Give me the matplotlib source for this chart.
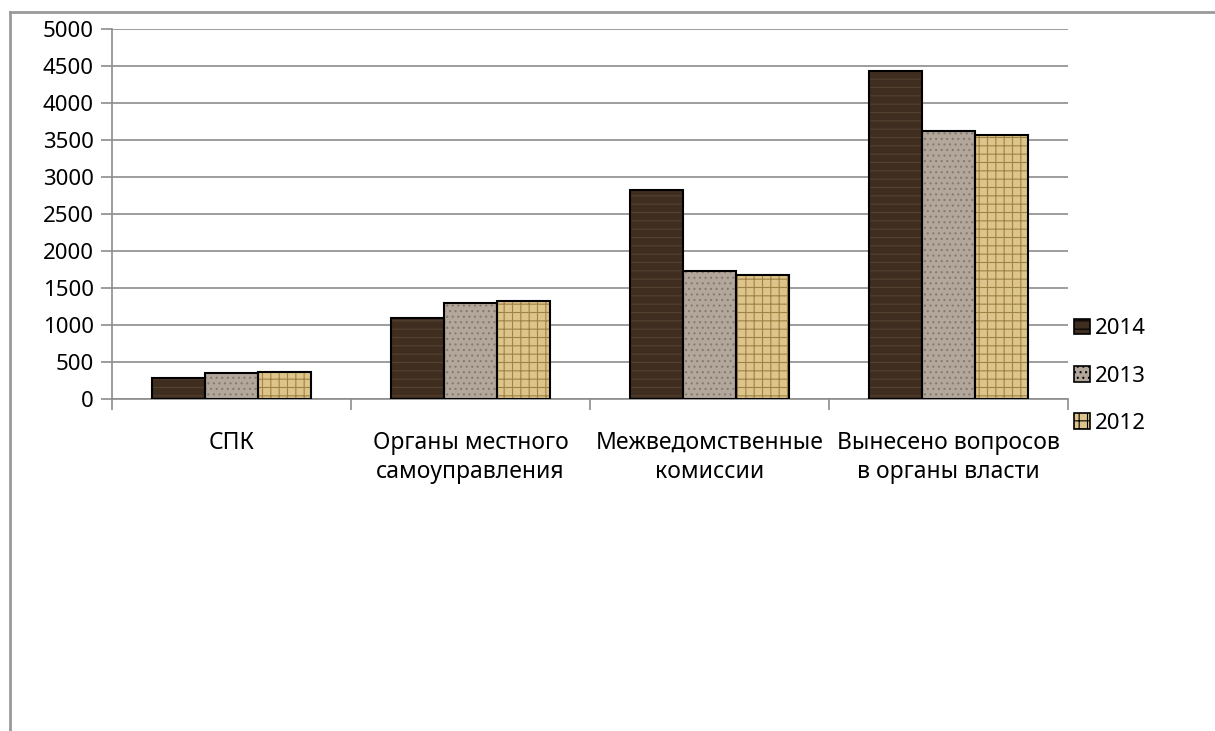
import numpy as np
import matplotlib
matplotlib.use("Agg")
import matplotlib.pyplot as plt
from matplotlib.patches import Patch
from matplotlib.lines import Line2D

plt.rcParams["font.family"] = ["Noto Sans", "DejaVu Sans"]
plt.rcParams["hatch.linewidth"] = 0.8

categories = ["СПК", "Органы местного\nсамоуправления",
              "Межведомственные\nкомиссии", "Вынесено вопросов\nв органы власти"]
years = ["2014", "2013", "2012"]
v2014 = [290, 1095, 2820, 4430]
v2013 = [350, 1295, 1725, 3615]
v2012 = [362, 1325, 1680, 3570]
series = [v2014, v2013, v2012]

face = ["#3f2d20", "#b3a79c", "#dcc48a"]
hatch_col = ["#56412f", "#857a6f", "#a08244"]
hatches = ["--", "...", "++"]

fig = plt.figure(figsize=(12.15, 7.31), dpi=100)
W, H = 1215, 731
ax = fig.add_axes([112 / W, (H - 399) / H, (1068 - 112) / W, (399 - 29) / H])

x = np.arange(len(categories))
bw = 0.667 / 3
for i, vals in enumerate(series):
    pos = x + (i - 1) * bw
    # textured fill, then a black outline on top
    ax.bar(pos, vals, bw, color=face[i], edgecolor=hatch_col[i],
           hatch=hatches[i], linewidth=0, zorder=3)
    ax.bar(pos, vals, bw, facecolor="none", edgecolor="black",
           linewidth=1.5, zorder=4)

ax.set_xlim(-0.5, len(categories) - 0.5)
ax.set_ylim(0, 5000)
ax.set_yticks(np.arange(0, 5001, 500))
ax.yaxis.grid(True, color="#8c8c8c", linewidth=1.2, zorder=0)
ax.set_axisbelow(True)
for s in ["top", "right"]:
    ax.spines[s].set_visible(False)
for s in ["left", "bottom"]:
    ax.spines[s].set_color("#8c8c8c")
    ax.spines[s].set_linewidth(1.2)
ax.tick_params(axis="y", length=8, color="#8c8c8c", width=1.2,
               labelsize=16, pad=5)
ax.set_xticks(np.arange(-0.5, len(categories)), minor=False)
ax.set_xticklabels([])
ax.tick_params(axis="x", length=8, color="#8c8c8c", width=1.2)
for i, c in enumerate(categories):
    ax.text(x[i], -430, c, ha="center", va="top", fontsize=16.5,
            linespacing=1.3)

handles = [Patch(facecolor=face[i], edgecolor="black", hatch=hatches[i],
                 linewidth=1.2) for i in range(3)]
leg = fig.legend(handles, years, loc="center left",
                 bbox_to_anchor=(1054 / W, 1 - 376 / H), frameon=False,
                 fontsize=16, handlelength=0.7, handleheight=0.7,
                 handletextpad=0.25, labelspacing=1.18)

# outer chart frame (partially visible)
fig.add_artist(Line2D([10 / W, 10 / W], [0, 1 - 12 / H], color="#9a9a9a",
                      linewidth=2, transform=fig.transFigure))
fig.add_artist(Line2D([10 / W, 1], [1 - 12 / H, 1 - 12 / H], color="#9a9a9a",
                      linewidth=2, transform=fig.transFigure))

fig.savefig("out.png", dpi=100)
